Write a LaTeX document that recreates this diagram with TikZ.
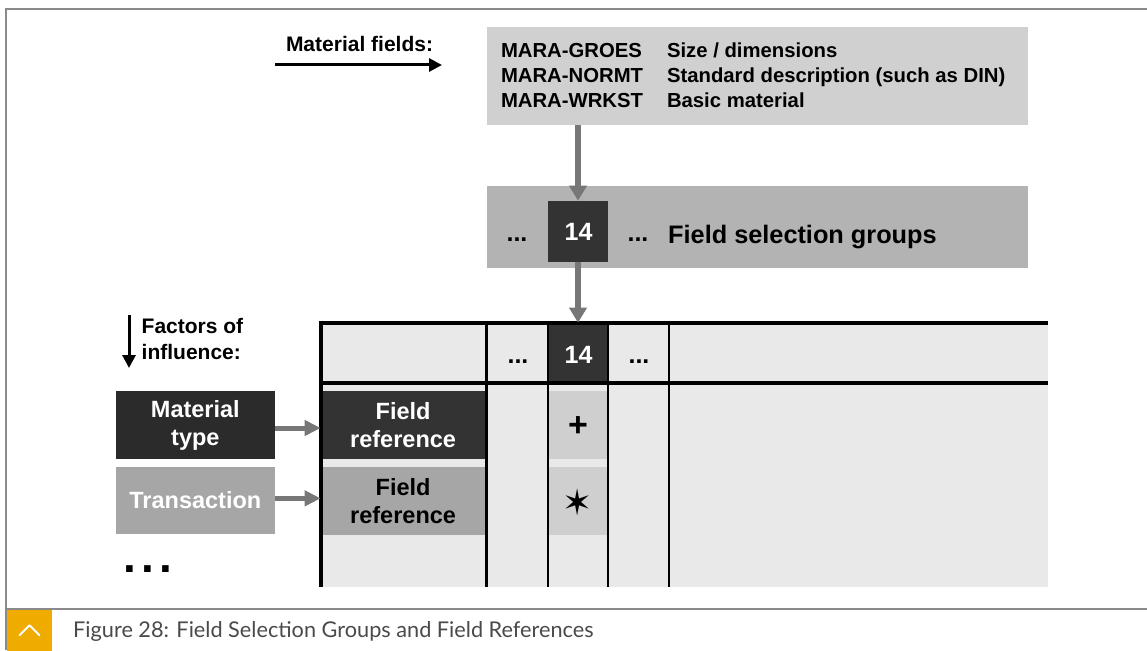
\documentclass[tikz,border=0pt]{standalone}
\usepackage{fontspec}
\setmainfont{Liberation Sans}
\newfontfamily\capfont{Lato}
\newfontfamily\symfont{DejaVu Sans}
\usetikzlibrary{arrows.meta}

\definecolor{framegray}{HTML}{8A8A8A}
\definecolor{boxlight}{HTML}{D0D0D0}
\definecolor{boxmid}{HTML}{B3B3B3}
\definecolor{boxdark}{HTML}{333333}
\definecolor{boxblack}{HTML}{2B2B2B}
\definecolor{tablefill}{HTML}{E9E9E9}
\definecolor{cellfill}{HTML}{CFCFCF}
\definecolor{refgray}{HTML}{A6A6A6}
\definecolor{arrowgray}{HTML}{777777}
\definecolor{sapgold}{HTML}{F0AB00}
\definecolor{captext}{HTML}{4A4A4A}

\newcommand\pxfont[1]{\fontsize{#1}{#1}\selectfont}

\tikzset{
  panel/.style={inner sep=0pt, outer sep=0pt, anchor=north west},
  label/.style={inner sep=0pt, outer sep=0pt, font=\bfseries\pxfont{21}},
  boxtext/.style={align=center, font=\bfseries\fontsize{23.5}{28}\selectfont},
  dots/.style={inner sep=0pt, font=\bfseries\pxfont{25}},
  num/.style={inner sep=0pt, font=\bfseries\pxfont{25}, text=white},
  grayarrow/.style={draw=arrowgray, line width=6pt, -{Triangle[length=15pt,width=17pt]}},
  sidearrow/.style={draw=arrowgray, line width=5pt, -{Triangle[length=16pt,width=15pt]}},
  blackarrow/.style={draw=black, line width=3pt, -{Triangle[length=13pt,width=13pt]}},
  thickrule/.style={line width=4pt},
  midrule/.style={line width=3.5pt},
  thinrule/.style={line width=2pt}
}

\begin{document}
\begin{tikzpicture}[x=1pt,y=-1pt]
\useasboundingbox (0,0) rectangle (1147,650);
\fill[white] (0,0) rectangle (1147,650);

% outer frame and caption bar
\draw[framegray, line width=1.6pt] (1147,9) -- (5.8,9) -- (5.8,650);
\draw[framegray, line width=1.6pt] (5.8,609) -- (1147,609);
\node[panel, fill=sapgold, minimum width=45pt, minimum height=40.5pt] (badge) at (7,610) {};
\draw[white, line width=1.8pt, line cap=round, line join=round]
  ([xshift=-10pt,yshift=-5pt]badge.center) -- ([yshift=5pt]badge.center) -- ([xshift=10pt,yshift=-5pt]badge.center);
\node[anchor=base west, inner sep=0pt, text=captext, font=\capfont\pxfont{21.7}] (caption) at (73,637)
  {Figure 28: Field Selection Groups and Field References};

% material fields
\node[label, anchor=base west] (mflabel) at (286,51.7) {Material fields:};
\coordinate (mfstart) at (275,65);
\coordinate (mfend) at (442,65);
\draw[blackarrow] (mfstart) -- (mfend);

\node[panel, fill=boxlight, minimum width=540.4pt, minimum height=97.7pt] (fields) at (487.3,27.3) {};
\node[label, anchor=base west, font=\bfseries\pxfont{20.3}] (f1) at (501,58) {MARA-GROES};
\node[label, anchor=base west, font=\bfseries\pxfont{20.3}] (f2) at (501,83) {MARA-NORMT};
\node[label, anchor=base west, font=\bfseries\pxfont{20.3}] (f3) at (501,108) {MARA-WRKST};
\node[label, anchor=base west, font=\bfseries\pxfont{20.3}] (d1) at (667,58) {Size / dimensions};
\node[label, anchor=base west, font=\bfseries\pxfont{20.3}] (d2) at (667,83) {Standard description (such as DIN)};
\node[label, anchor=base west, font=\bfseries\pxfont{20.3}] (d3) at (667,108) {Basic material};

% field selection groups
\node[panel, fill=boxmid, minimum width=541pt, minimum height=82.3pt] (groups) at (486.7,186) {};
\node[panel, fill=boxdark, minimum width=60.6pt, minimum height=61pt] (grp14) at (547.7,200.7) {};
\node[num, anchor=base] (grp14txt) at (578.5,240.7) {14};
\node[dots, anchor=base] (grpdotsl) at (517,241) {...};
\node[dots, anchor=base] (grpdotsr) at (638,241) {...};
\node[anchor=base west, inner sep=0pt, font=\bfseries\pxfont{25.3}] (grplabel) at (668,243) {Field selection groups};

% table
\fill[tablefill] (320.7,322.7) rectangle (1047.7,587);
\node[panel, fill=boxdark, minimum width=60pt, minimum height=59.8pt] (hdr14) at (548,322.7) {};
\node[num, anchor=base] (hdr14txt) at (578.5,363) {14};
\node[dots, anchor=base] (hdrdotsl) at (518,363) {...};
\node[dots, anchor=base] (hdrdotsr) at (639,363) {...};

\node[panel, fill=boxdark, minimum width=164.8pt, minimum height=68.3pt, boxtext, text=white] (fref1) at (320.7,390.7) {Field\\reference};
\node[panel, fill=refgray, minimum width=164.8pt, minimum height=68.3pt, boxtext] (fref2) at (320.7,466.7) {Field\\reference};
\node[panel, fill=cellfill, minimum width=58pt, minimum height=68.3pt] (plus) at (549,390.7) {};
\node[panel, fill=cellfill, minimum width=58pt, minimum height=68.3pt] (star) at (549,466.7) {};
\node[inner sep=0pt, font=\bfseries\pxfont{34}] (plussign) at (578,427) {+};
\node[inner sep=0pt, font=\symfont\pxfont{36}] (starsign) at (578,502.5) {✶};

% table rules
\draw[thickrule] (318.7,322.7) -- (1047.7,322.7);
\draw[thickrule] (320.7,382.5) -- (1047.7,382.5);
\draw[thickrule] (320.7,320.7) -- (320.7,587);
\draw[midrule] (486.7,322.7) -- (486.7,587);
\draw[thinrule] (548,322.7) -- (548,587);
\draw[thinrule] (608,322.7) -- (608,587);
\draw[thinrule] (669,322.7) -- (669,587);

% factors of influence
\coordinate (fistart) at (129,315);
\coordinate (fiend) at (129,368);
\draw[blackarrow] (fistart) -- (fiend);
\node[label, anchor=base west] (fi1) at (141.7,333) {Factors of};
\node[label, anchor=base west] (fi2) at (141.7,359) {influence:};

\node[panel, fill=boxblack, minimum width=159.3pt, minimum height=68pt, boxtext, text=white] (mattype) at (115.7,391) {Material\\type};
\node[panel, fill=refgray, minimum width=159.3pt, minimum height=67.3pt, boxtext, text=white] (trans) at (115.7,466.7) {Transaction};
\node[anchor=base, inner sep=0pt, font=\bfseries\pxfont{46}] (moredots) at (148,572.5) {.\hspace{5pt}.\hspace{5pt}.};

% connectors
\draw[grayarrow] (fields.south -| grp14.north) -- (grp14.north);
\draw[grayarrow] (grp14.south) -- (hdr14.north);
\draw[sidearrow] ([yshift=-3pt]mattype.east) -- ([yshift=-3pt]fref1.west |- mattype.east);
\draw[sidearrow] ([yshift=2pt]trans.east) -- ([yshift=2pt]fref2.west |- trans.east);
\end{tikzpicture}
\end{document}
